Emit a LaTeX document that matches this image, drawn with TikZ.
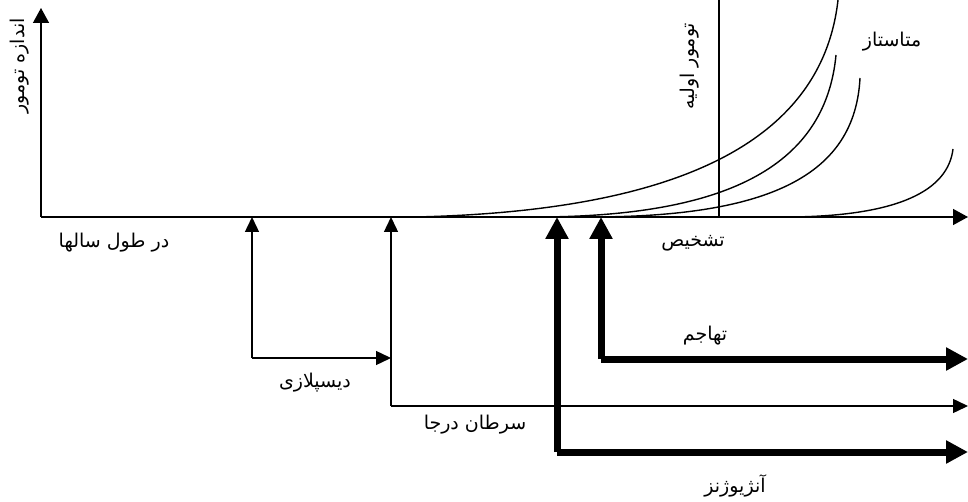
\documentclass[tikz,border=0pt]{standalone}
\usepackage{fontspec}
\TeXXeTstate=1
\newfontfamily\fa[Script=Arabic]{DejaVu Sans}
\usetikzlibrary{arrows.meta}
\begin{document}
\begin{tikzpicture}[x=1pt,y=-1pt,
  thinline/.style={line width=1.4pt},
  thinarrow/.style={line width=1.4pt,-{Triangle[length=15pt,width=14pt]}},
  thickarrow/.style={line width=7pt,-{Triangle[length=22pt,width=22pt]}},
  lbl/.style={font=\fa\fontsize{19}{22}\selectfont, inner sep=0pt},
  curve/.style={line width=1.4pt}]
\useasboundingbox (0,0) rectangle (968,502);
% coordinates
\coordinate (O) at (41,217);
\coordinate (Ytop) at (41,8);
\coordinate (Xend) at (968,217);
\coordinate (dA) at (252,217);
\coordinate (dB) at (252,358);
\coordinate (dC) at (391,358);
\coordinate (cA) at (391,217);
\coordinate (cB) at (391,406);
\coordinate (cE) at (968,406);
\coordinate (aA) at (557,217);
\coordinate (aB) at (557,452);
\coordinate (aE) at (968,452);
\coordinate (iA) at (601,217);
\coordinate (iB) at (601,359);
\coordinate (iE) at (968,359);
\coordinate (pB) at (719,217);
\coordinate (pT) at (719,0);
% axes
\draw[thinline,-{Triangle[length=15pt,width=16pt]}] (O) -- (Ytop);
\draw[thinline,-{Triangle[length=15pt,width=16pt]}] (O) -- (Xend);
% primary tumour line
\draw[thinline] (pB) -- (pT);
% curves
\draw[curve] (415,217) .. controls (640,212) and (820,160) .. (838,0);
\draw[curve] (540,217) .. controls (720,216) and (825,170) .. (836,55);
\draw[curve] (590,217) .. controls (770,217) and (855,175) .. (860,78);
\draw[curve] (790,217) .. controls (900,216) and (948,190) .. (953,149);
% stage arrows
\draw[thinarrow] (dB) -- (dA);
\draw[thinarrow] (dB) -- (dC);
\draw[thinarrow] (cB) -- (cA);
\draw[thinarrow] (cB) -- (cE);
\draw[thickarrow] (aB) -- (aA);
\draw[thickarrow] (aB) -- (aE);
\draw[thickarrow] (iB) -- (iA);
\draw[thickarrow] (iB) -- (iE);
% labels
\node[lbl,rotate=90] (ylab) at (20,66) {\beginR اندازه تومور\endR};
\node[lbl,rotate=90] (plab) at (690,66) {\beginR تومور اولیه\endR};
\node[lbl] (mlab) at (892,42) {\beginR متاستاز\endR};
\node[lbl] (xlab) at (114,243) {\beginR در طول سالها\endR};
\node[lbl] (tlab) at (693,243) {\beginR تشخیص\endR};
\node[lbl] (dlab) at (315,383) {\beginR دیسپلازی\endR};
\node[lbl] (clab) at (475,425) {\beginR سرطان درجا\endR};
\node[lbl] (ilab) at (705,336) {\beginR تهاجم\endR};
\node[lbl] (alab) at (735,486) {\beginR آنژیوژنز\endR};
\end{tikzpicture}
\end{document}
